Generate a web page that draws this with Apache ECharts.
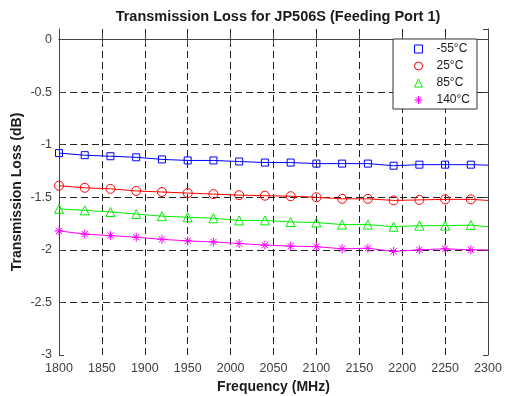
<!DOCTYPE html>
<html>
<head>
<meta charset="utf-8">
<script src="https://cdn.jsdelivr.net/npm/echarts@6/dist/echarts.min.js"></script>
<style>
  html, body { margin: 0; padding: 0; background: #fff; }
  #main { width: 506px; height: 396px; }
</style>
</head>
<body>
<div id="main"></div>
<script>
// frequencies (MHz); markers every 30 MHz, the line runs on to 2300
let freqs = [1800, 1830, 1860, 1890, 1920, 1950, 1980, 2010, 2040, 2070, 2100, 2130, 2160, 2190, 2220, 2250, 2280, 2300];

let lossM55 = [-1.08, -1.10, -1.11, -1.12, -1.14, -1.15, -1.15, -1.16, -1.17, -1.17, -1.18, -1.18, -1.18, -1.20, -1.19, -1.19, -1.19, -1.195];
let loss25  = [-1.39, -1.41, -1.42, -1.44, -1.45, -1.46, -1.47, -1.48, -1.485, -1.49, -1.50, -1.515, -1.515, -1.53, -1.525, -1.52, -1.52, -1.53];
let loss85  = [-1.61, -1.625, -1.64, -1.66, -1.68, -1.69, -1.70, -1.72, -1.72, -1.735, -1.74, -1.76, -1.76, -1.78, -1.77, -1.77, -1.765, -1.78];
let loss140 = [-1.82, -1.85, -1.865, -1.88, -1.90, -1.915, -1.925, -1.94, -1.955, -1.965, -1.97, -1.99, -1.985, -2.015, -2.0, -1.99, -2.0, -2.0];

let names = ['-55°C', '25°C', '85°C', '140°C'];
let colors = ['#0000ff', '#ff0000', '#00ee00', '#ff00ff'];

let xTicks = [1800, 1850, 1900, 1950, 2000, 2050, 2100, 2150, 2200, 2250, 2300];
let yTicks = [0, -0.5, -1, -1.5, -2, -2.5, -3];

let star = 'path://M0,-5L0,5M-5,0L5,0M-3.5,-3.5L3.5,3.5M-3.5,3.5L3.5,-3.5';
let symbols = ['rect', 'circle', 'triangle', star];
let sizes = [7, 9, 9, 9];

let chartDom = document.getElementById('main');
let myChart = echarts.init(chartDom, null, { renderer: 'canvas' });

let font = '"Liberation Sans", Arial, Helvetica, sans-serif';
let gridLine = { show: true, lineStyle: { color: '#222', width: 1, type: [7, 4] } };

function makeSeries(i, values) {
  let last = freqs.length - 1;
  return {
    name: names[i],
    type: 'line',
    xAxisIndex: 0,
    yAxisIndex: 0,
    symbol: symbols[i],
    symbolSize: sizes[i],
    lineStyle: { color: colors[i], width: 1 },
    itemStyle: { color: i === 3 ? colors[i] : 'transparent', borderColor: colors[i], borderWidth: 1 },
    emphasis: { disabled: true },
    z: 1,
    data: freqs.map((f, k) => {
      let item = { value: [f, values[k]] };
      if (k === last) item.symbol = 'none';
      return item;
    })
  };
}

let option = {
  backgroundColor: '#fff',
  animation: false,
  textStyle: { fontFamily: font },
  title: {
    text: 'Transmission Loss for JP506S (Feeding Port 1)',
    left: 273,
    textAlign: 'center',
    top: 4,
    textStyle: { fontFamily: font, fontSize: 14.5, fontWeight: 'bold', color: '#1a1a1a' }
  },
  legend: {
    orient: 'vertical',
    left: 393,
    top: 39,
    padding: [4, 7, 3, 21],
    itemWidth: 8,
    itemHeight: 8,
    itemGap: 5,
    backgroundColor: '#fff',
    borderColor: '#333',
    borderWidth: 1,
    borderRadius: 0,
    textStyle: { fontFamily: font, fontSize: 12, color: '#1a1a1a', padding: [0, 0, 0, 9], lineHeight: 11 },
    data: names.map((n, i) => ({
      name: n,
      icon: i === 3 ? star : symbols[i],
      itemStyle: { color: i === 3 ? colors[i] : '#fff', borderColor: colors[i], borderWidth: 1 }
    }))
  },
  grid: { left: 59, right: 18, top: 29, bottom: 41, containLabel: false, outerBoundsMode: 'none' },
  xAxis: [
    {
      type: 'value',
      min: 1800,
      max: 2300,
      interval: 50,
      name: 'Frequency (MHz)',
      nameLocation: 'middle',
      nameGap: 22,
      nameTextStyle: { fontFamily: font, fontSize: 14, fontWeight: 'bold', color: '#1a1a1a' },
      axisLine: { show: true, lineStyle: { color: '#444', width: 1 } },
      axisTick: { show: true, inside: true, length: 5, lineStyle: { color: '#444' } },
      axisLabel: {
        fontFamily: font, fontSize: 12.5, color: '#404040', margin: 7,
        formatter: v => xTicks.indexOf(v) >= 0 ? String(v) : ''
      },
      splitLine: Object.assign({ showMinLine: false, showMaxLine: false }, gridLine)
    },
    {
      type: 'value',
      position: 'top',
      min: 1800,
      max: 2300,
      interval: 50,
      axisLine: { show: true, lineStyle: { color: '#444', width: 1 } },
      axisTick: { show: true, inside: true, length: 5, lineStyle: { color: '#444' } },
      axisLabel: { show: false },
      splitLine: { show: false }
    }
  ],
  yAxis: [
    {
      type: 'value',
      min: -3,
      max: 0.1,
      interval: 0.5,
      name: 'Transmission Loss (dB)',
      nameLocation: 'middle',
      nameGap: 35,
      nameMoveOverlap: false,
      nameTextStyle: { fontFamily: font, fontSize: 14, fontWeight: 'bold', color: '#1a1a1a' },
      axisLine: { show: true, lineStyle: { color: '#444', width: 1 } },
      axisTick: { show: true, inside: true, length: 5, lineStyle: { color: '#444' } },
      axisLabel: {
        fontFamily: font, fontSize: 12.5, color: '#404040', margin: 7,
        showMaxLabel: false,
        formatter: v => yTicks.indexOf(v) >= 0 ? String(v) : ''
      },
      splitLine: Object.assign({ showMinLine: false, showMaxLine: false }, gridLine)
    },
    {
      type: 'value',
      position: 'right',
      min: -3,
      max: 0.1,
      interval: 0.5,
      axisLine: { show: true, lineStyle: { color: '#444', width: 1 } },
      axisTick: { show: true, inside: true, length: 5, lineStyle: { color: '#444' } },
      axisLabel: { show: false },
      splitLine: { show: false }
    }
  ],
  series: [
    makeSeries(0, lossM55),
    makeSeries(1, loss25),
    makeSeries(2, loss85),
    makeSeries(3, loss140)
  ]
};

option && myChart.setOption(option);
</script>
</body>
</html>
